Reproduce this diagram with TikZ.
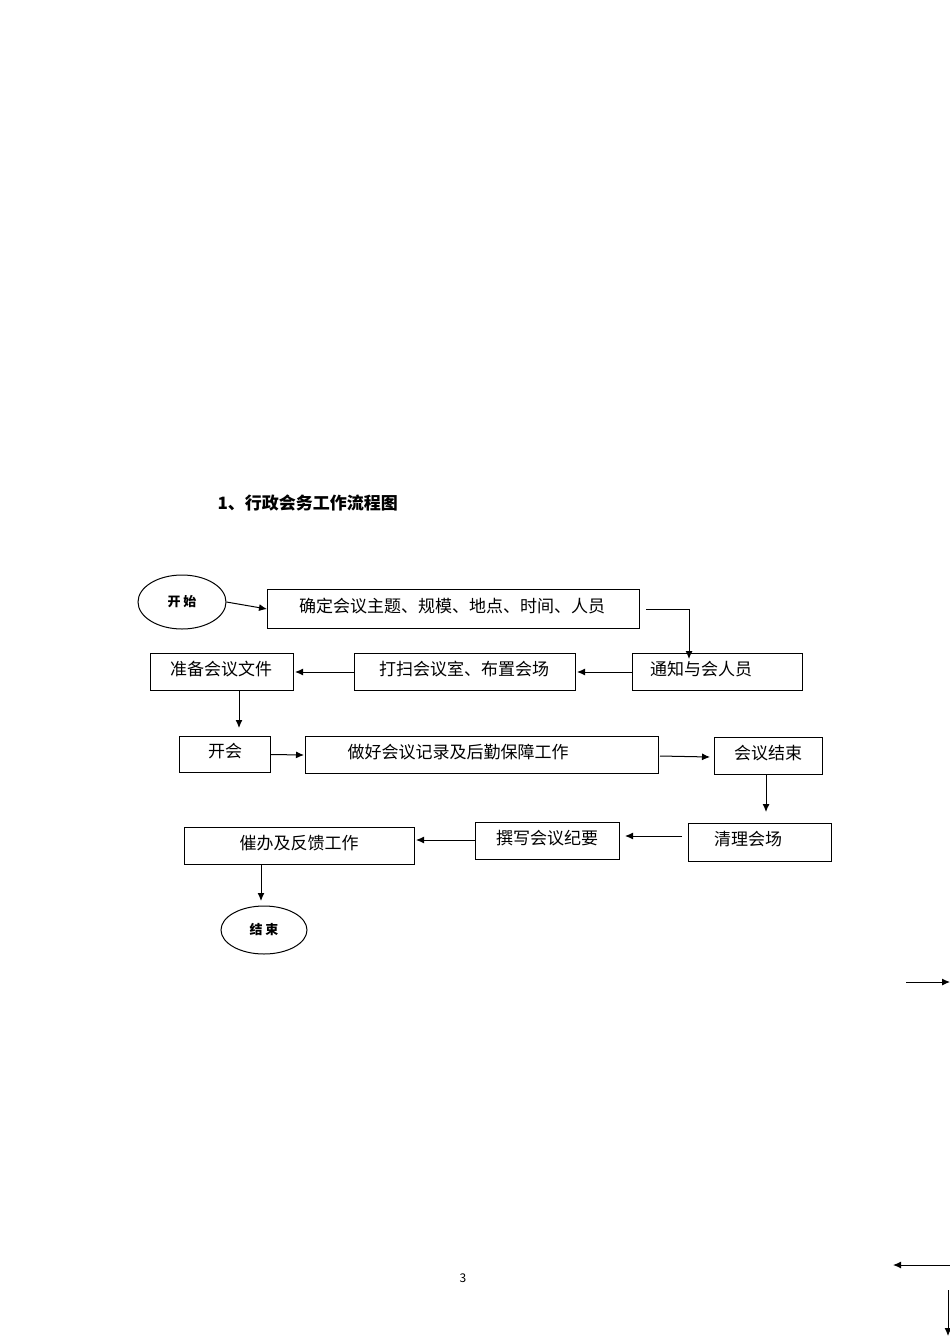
\documentclass[tikz,border=0pt]{standalone}
\usepackage{fontspec}
\setmainfont{Noto Sans CJK SC}
\usetikzlibrary{shapes.geometric,arrows.meta}
\begin{document}
\begin{tikzpicture}[x=1pt,y=-1pt,
  bx/.style={draw,line width=1pt,anchor=north west,inner sep=0pt,font=\fontsize{17}{17}\selectfont},
  ov/.style={draw,line width=1pt,ellipse,inner sep=0pt,font=\bfseries\fontsize{13}{13}\selectfont},
  ar/.style={line width=1pt,-{Latex[length=8pt,width=7pt]}}]
\useasboundingbox (0,0) rectangle (950,1344);
\node[font=\bfseries\fontsize{17}{17}\selectfont,anchor=west] (title) at (214,503) {1、行政会务工作流程图};
\node[ov,minimum width=88,minimum height=54] (start) at (182,602) {开 始};
\node[bx,minimum width=372,minimum height=39] (b1) at (267,589) {};
\node at (452,606) {\fontsize{17}{17}\selectfont 确定会议主题、规模、地点、时间、人员};
\node[bx,minimum width=170,minimum height=37] (b2) at (632,653) {};
\node at (701,669) {\fontsize{17}{17}\selectfont 通知与会人员};
\node[bx,minimum width=221,minimum height=37] (b3) at (354,653) {};
\node at (464,669) {\fontsize{17}{17}\selectfont 打扫会议室、布置会场};
\node[bx,minimum width=143,minimum height=37] (b4) at (150,653) {};
\node at (221,669) {\fontsize{17}{17}\selectfont 准备会议文件};
\node[bx,minimum width=91,minimum height=36] (b5) at (179,736) {};
\node at (225,751) {\fontsize{17}{17}\selectfont 开会};
\node[bx,minimum width=353,minimum height=37] (b6) at (305,736) {};
\node at (458,752) {\fontsize{17}{17}\selectfont 做好会议记录及后勤保障工作};
\node[bx,minimum width=108,minimum height=37] (b7) at (714,737) {};
\node at (768,753) {\fontsize{17}{17}\selectfont 会议结束};
\node[bx,minimum width=143,minimum height=38] (b8) at (688,823) {};
\node at (748,839) {\fontsize{17}{17}\selectfont 清理会场};
\node[bx,minimum width=144,minimum height=37] (b9) at (475,822) {};
\node at (547,838) {\fontsize{17}{17}\selectfont 撰写会议纪要};
\node[bx,minimum width=230,minimum height=37] (b10) at (184,827) {};
\node at (299,843) {\fontsize{17}{17}\selectfont 催办及反馈工作};
\node[ov,minimum width=86,minimum height=48] (end) at (264,930) {结 束};
\node[font=\fontsize{12}{12}\selectfont] (pg) at (463,1278) {3};
\coordinate (c1) at (646,609);
\draw[ar] (start.east) -- (b1.west);
\draw[ar] (c1) -| ([yshift=-6]b2.north -| 689,0);
\draw[ar] (b2.west) -- ([xshift=1]b3.east);
\draw[ar] (b3.west) -- ([xshift=1]b4.east);
\draw[ar] (239,690) -- (239,728);
\draw[ar] (b5.east) -- ([xshift=-1]b6.west);
\draw[ar] (660,756) -- (710,757);
\draw[ar] (766,774) -- (766,812);
\draw[ar] (682,836) -- (625,836);
\draw[ar] (475,840) -- (416,840);
\draw[ar] (261,864) -- (261,901);
\coordinate (s1) at (906,982); \coordinate (s2) at (950,982);
\draw[ar] (s1) -- (s2);
\coordinate (s3) at (950,1265); \coordinate (s4) at (893,1265);
\draw[ar] (s3) -- (s4);
\coordinate (s5) at (948,1290); \coordinate (s6) at (948,1336);
\draw[ar] (s5) -- (s6);
\end{tikzpicture}
\end{document}
